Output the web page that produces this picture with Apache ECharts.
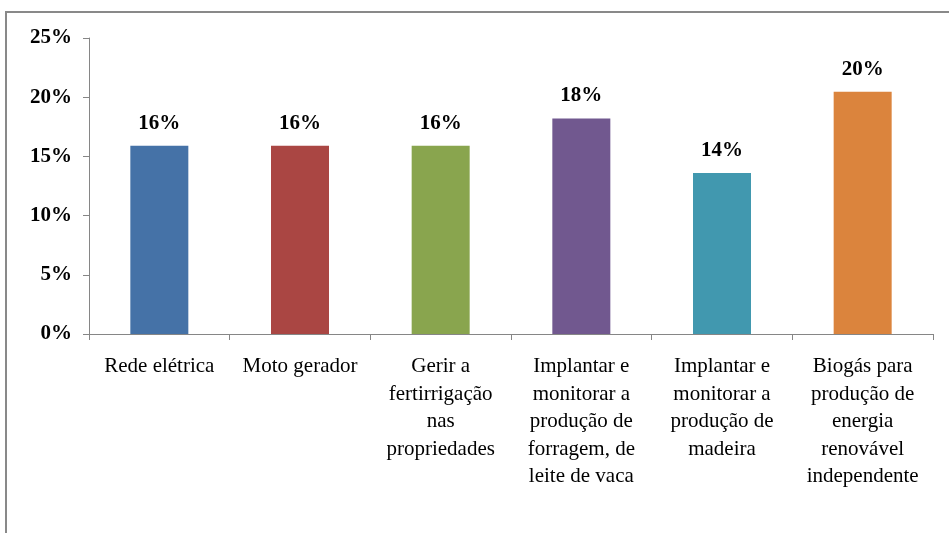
<!DOCTYPE html>
<html>
<head>
<meta charset="utf-8">
<script src="https://cdn.jsdelivr.net/npm/echarts@6/dist/echarts.min.js"></script>
<style>html,body{margin:0;padding:0;background:#fff;}#c{width:949px;height:533px;}</style>
</head>
<body>
<div id="c"></div>
<script>
var categories = [
  'Rede elétrica',
  'Moto gerador',
  'Gerir a\nfertirrigação\nnas\npropriedades',
  'Implantar e\nmonitorar a\nprodução de\nforragem, de\nleite de vaca',
  'Implantar e\nmonitorar a\nprodução de\nmadeira',
  'Biogás para\nprodução de\nenergia\nrenovável\nindependente'
];
var values = [0.159, 0.159, 0.159, 0.182, 0.136, 0.2045];
var colors = ['#4572A7', '#AA4643', '#89A54E', '#71588F', '#4198AF', '#DB843D'];
var yTicks = [0, 0.05, 0.10, 0.15, 0.20, 0.25];

var font = '"Liberation Serif", "Times New Roman", serif';
var chart = echarts.init(document.getElementById('c'));
chart.setOption({
  animation: false,
  backgroundColor: '#fff',
  graphic: [{
    type: 'rect',
    shape: { x: 6, y: 12, width: 1000, height: 600 },
    style: { fill: 'none', stroke: '#898989', lineWidth: 2 },
    silent: true
  }],
  grid: { left: 89, right: 16, top: 38, bottom: 199, containLabel: false },
  xAxis: {
    type: 'category',
    data: categories,
    axisLine: { lineStyle: { color: '#868686', width: 1 } },
    axisTick: { show: true, length: 6, lineStyle: { color: '#868686' } },
    axisLabel: {
      interval: 0, margin: 19,
      fontFamily: font, fontSize: 21, lineHeight: 27.5,
      color: '#000', align: 'center'
    }
  },
  yAxis: {
    type: 'value',
    min: yTicks[0], max: yTicks[yTicks.length - 1], interval: 0.05,
    splitLine: { show: false },
    axisLine: { show: true, lineStyle: { color: '#868686', width: 1 } },
    axisTick: { show: true, length: 6, lineStyle: { color: '#868686' } },
    axisLabel: {
      margin: 17,
      fontFamily: font, fontSize: 21, fontWeight: 'bold', color: '#000',
      formatter: function (v) { return Math.round(v * 100) + '%'; }
    }
  },
  series: [{
    type: 'bar',
    barWidth: 58,
    data: values.map(function (v, i) { return { value: v, itemStyle: { color: colors[i] } }; }),
    label: {
      show: true, position: 'top', distance: 12,
      fontFamily: font, fontSize: 21, fontWeight: 'bold', color: '#000',
      formatter: function (p) { return Math.round(p.value * 100) + '%'; }
    }
  }]
});
</script>
</body>
</html>
